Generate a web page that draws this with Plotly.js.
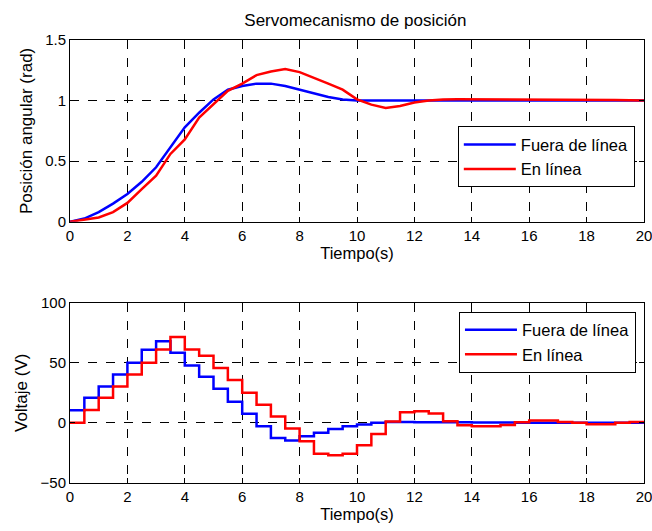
<!DOCTYPE html>
<html>
<head>
<meta charset="utf-8">
<script src="https://cdn.plot.ly/plotly-3.0.1.min.js"></script>
<style>html,body{margin:0;padding:0;background:#fff;}#chart{width:652px;height:531px;}</style>
</head>
<body>
<div id="chart"></div>
<script>
// Top: angular position (sampled every 0.5 s)
const tPos = [0,0.5,1,1.5,2,2.5,3,3.5,4,4.5,5,5.5,6,6.5,7,7.5,8,8.5,9,9.5,10,10.5,11,11.5,12,12.5,13,13.5,14,14.5,15,15.5,16,16.5,17,17.5,18,18.5,19,19.5,20];
const posFuera = [0,0.027,0.08,0.15,0.23,0.33,0.45,0.62,0.78,0.90,1.01,1.09,1.12,1.14,1.14,1.12,1.09,1.06,1.03,1.01,1.0,1.0,1.0,1.0,1.0,1.0,1.0,1.003,1.005,1.005,1.006,1.006,1.006,1.006,1.006,1.005,1.005,1.004,1.003,1.001,1.0];
const posEnLinea = [0,0.015,0.036,0.08,0.156,0.27,0.38,0.56,0.68,0.86,0.97,1.08,1.14,1.21,1.24,1.26,1.235,1.19,1.14,1.09,1.01,0.967,0.94,0.955,0.985,1.0,1.01,1.012,1.012,1.01,1.008,1.006,1.006,1.008,1.01,1.012,1.012,1.01,1.006,1.002,1.0];

// Bottom: voltage (zero-order hold, 0.5 s steps)
const tVolt = [0,0.5,1,1.5,2,2.5,3,3.5,4,4.5,5,5.5,6,6.5,7,7.5,8,8.5,9,9.5,10,10.5,11,11.5,12,12.5,13,13.5,14,14.5,15,15.5,16,16.5,17,17.5,18,18.5,19,19.5,20];
const voltFuera = [10.5,20.8,30.3,40.3,50,60.8,67.8,58.3,47.8,38.3,28.3,17.5,7.5,-2.8,-12.5,-14.7,-11.1,-8.3,-5,-2.8,-1.4,0,0.8,0.8,0.6,0.6,0.5,0.5,0.4,0.4,0.3,0.2,0.1,0,0,0,0,0,0,0,0];
const voltEnLinea = [0,10.6,20.8,30.3,40.3,50,61,71.4,61,55.8,45.6,35.6,25,15,5.3,-4.7,-15.3,-25.6,-27,-25.6,-18.6,-9.2,1.1,8.9,9.7,7.8,1.4,-1.9,-2.8,-2.8,-1.7,0.6,1.9,1.9,0.8,0,-1.1,-1.1,0,0.8,0.8];

const nameA = 'Fuera de línea';
const nameB = 'En línea';
const blue = '#0000ff', red = '#ff0000';
const FAM = 'Liberation Sans, Arial, sans-serif';
const tickFont = {family: FAM, size: 15, color: '#000'};
const xTitleFont = {family: FAM, size: 16.5, color: '#000'};
const yTitleFont = {family: FAM, size: 17, color: '#000'};

const traces = [
  {x: tPos, y: posFuera, name: nameA, type: 'scatter', mode: 'lines', line: {color: blue, width: 2.5}, xaxis: 'x', yaxis: 'y', legend: 'legend'},
  {x: tPos, y: posEnLinea, name: nameB, type: 'scatter', mode: 'lines', line: {color: red, width: 2.5}, xaxis: 'x', yaxis: 'y', legend: 'legend'},
  {x: tVolt, y: voltFuera, name: nameA, type: 'scatter', mode: 'lines', line: {color: blue, width: 2.5, shape: 'hv'}, xaxis: 'x2', yaxis: 'y2', legend: 'legend2'},
  {x: tVolt, y: voltEnLinea, name: nameB, type: 'scatter', mode: 'lines', line: {color: red, width: 2.5, shape: 'hv'}, xaxis: 'x2', yaxis: 'y2', legend: 'legend2'}
];

function xax(anchor) {
  return {
    anchor: anchor, domain: [0, 1], range: [0, 20], dtick: 2, tick0: 0,
    ticklabeloverflow: 'allow',
    showgrid: true, gridcolor: '#000', griddash: 'dash', gridwidth: 1,
    zeroline: false, showline: true, linecolor: '#000', linewidth: 1, mirror: 'ticks',
    ticks: 'inside', ticklen: 5, tickcolor: '#000', tickfont: tickFont,
    title: {text: 'Tiempo(s)', font: xTitleFont, standoff: 0}
  };
}
function yax(anchor, domain, range, dtick, title) {
  return {
    anchor: anchor, domain: domain, range: range, dtick: dtick,
    ticklabeloverflow: 'allow',
    showgrid: true, gridcolor: '#000', griddash: 'dash', gridwidth: 1,
    zeroline: false, showline: true, linecolor: '#000', linewidth: 1, mirror: 'ticks',
    ticks: 'inside', ticklen: 5, tickcolor: '#000', tickfont: tickFont,
    title: {text: title, font: yTitleFont, standoff: 8}
  };
}

const legendBase = {
  bgcolor: '#fff', bordercolor: '#000', borderwidth: 1,
  font: {family: FAM, size: 16.5, color: '#000'},
  xanchor: 'right', yanchor: 'top', tracegroupgap: 0, itemwidth: 52
};

const layout = {
  width: 652, height: 531,
  margin: {l: 70, r: 8, t: 39.5, b: 47.5},
  paper_bgcolor: '#fff', plot_bgcolor: '#fff',
  font: tickFont,
  showlegend: true,
  title: {text: 'Servomecanismo de posición', font: {family: FAM, size: 17, color: '#000'}, x: 0.545, xanchor: 'center', y: 0.962, yanchor: 'middle'},
  xaxis: xax('y'),
  yaxis: yax('x', [0.5896, 1], [0, 1.5], 0.5, 'Posición angular (rad)'),
  xaxis2: xax('y2'),
  yaxis2: yax('x2', [0, 0.4072], [-50, 100], 50, 'Voltaje (V)'),
  legend: Object.assign({}, legendBase, {x: 0.984, y: 0.805}),
  legend2: Object.assign({}, legendBase, {x: 0.986, y: 0.387})
};

Plotly.newPlot('chart', traces, layout, {staticPlot: true, displayModeBar: false});
</script>
</body>
</html>
